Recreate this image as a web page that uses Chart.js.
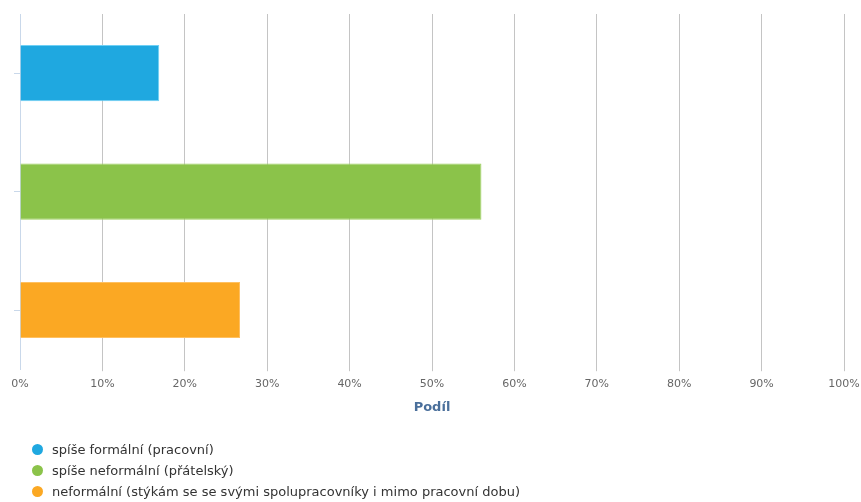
<!DOCTYPE html>
<html>
<head>
<meta charset="utf-8">
<script src="https://cdn.jsdelivr.net/npm/chart.js@4"></script>
<style>
  html, body { margin: 0; padding: 0; background: #fff; }
  #wrap { position: relative; width: 861px; height: 502px; }
  #legend { position: absolute; left: 32px; top: 439px; font-family: "DejaVu Sans", sans-serif; font-size: 13px; color: #333; }
  #legend div { height: 21px; line-height: 21px; display: flex; align-items: center; }
  #legend span.dot { display: inline-block; width: 11px; height: 11px; border-radius: 50%; margin-right: 9px; }
</style>
</head>
<body>
<div id="wrap">
  <canvas id="chart" width="861" height="502"></canvas>
  <div id="legend"></div>
</div>
<script>
const categories = [
  'spíše formální (pracovní)',
  'spíše neformální (přátelský)',
  'neformální (stýkám se se svými spolupracovníky i mimo pracovní dobu)'
];
const shares = [16.9, 56.0, 26.7];
const fills = ['#1fa8e0', '#8bc34a', '#fba823'];
const edges = ['#6fd0f5', '#9ed060', '#ffc060'];
const xTicks = [0, 10, 20, 30, 40, 50, 60, 70, 80, 90, 100];

const legendEl = document.getElementById('legend');
categories.forEach((name, i) => {
  const row = document.createElement('div');
  row.innerHTML = '<span class="dot" style="background:' + fills[i] + '"></span>';
  row.appendChild(document.createTextNode(name));
  legendEl.appendChild(row);
});

new Chart(document.getElementById('chart'), {
  type: 'bar',
  data: {
    labels: categories,
    datasets: [{
      data: shares,
      backgroundColor: fills,
      borderColor: edges,
      borderWidth: 1,
      barPercentage: 0.475,
      categoryPercentage: 1
    }]
  },
  options: {
    indexAxis: 'y',
    responsive: false,
    animation: false,
    layout: { padding: { left: 14, right: 17, top: 14, bottom: 87 } },
    plugins: {
      legend: { display: false },
      tooltip: { enabled: false }
    },
    scales: {
      x: {
        min: 0,
        max: 100,
        afterBuildTicks: (axis) => { axis.ticks = xTicks.map(v => ({ value: v })); },
        // let the "100%" label hang into the right padding
        afterFit: (axis) => { axis.paddingRight = 0; },
        border: { display: false },
        grid: {
          color: (c) => c.index === 0 ? 'rgba(0,0,0,0)' : '#c4c4c4',
          tickLength: 2
        },
        ticks: {
          callback: (v) => v + '%',
          color: '#666',
          padding: 6,
          font: { family: 'DejaVu Sans', size: 11 }
        },
        title: {
          display: true,
          text: 'Podíl',
          color: '#4a6f9b',
          padding: { top: 3, bottom: 0 },
          font: { family: 'DejaVu Sans', size: 13, weight: 'bold' }
        }
      },
      y: {
        border: { color: '#c9d8ea', width: 1 },
        grid: { drawOnChartArea: false, offset: false, tickLength: 6, color: '#c9d8ea' },
        ticks: { display: false }
      }
    }
  }
});
</script>
</body>
</html>
